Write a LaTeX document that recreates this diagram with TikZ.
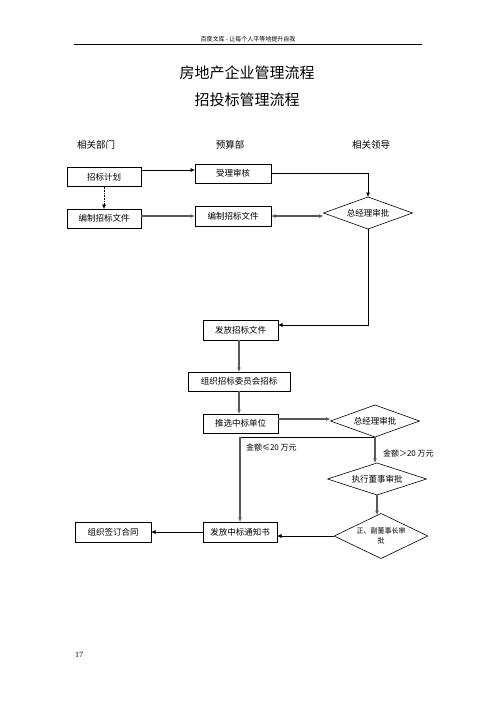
\documentclass[tikz,border=0pt]{standalone}
\usepackage{fontspec}
\setmainfont{Noto Sans CJK SC}
\newfontfamily\numfont{Liberation Serif}
\usetikzlibrary{shapes.geometric,arrows.meta,calc}
\begin{document}
\begin{tikzpicture}[x=1pt,y=-1pt,
  every node/.style={inner sep=0pt,outer sep=0pt},
  boxnode/.style={draw,line width=0.6pt,font=\fontsize{8.5}{10}\selectfont},
  dia/.style={draw,diamond,aspect=2.8,line width=0.6pt,font=\fontsize{8.5}{10}\selectfont},
  thin/.style={line width=0.6pt,-{Latex[length=4.5pt,width=4pt]}},
  thick/.style={line width=1.1pt,black!65,-{Latex[length=4.5pt,width=4pt]}},
  lab/.style={font=\fontsize{8}{9}\selectfont,anchor=west}]
\useasboundingbox (0,0) rectangle (496,702);
% header
\node (hdr) at (248,39) {\fontsize{6}{7}\selectfont 百度文库 - 让每个人平等地提升自我};
\coordinate (hl) at (74,44);
\coordinate (hr) at (422,44);
\draw[line width=0.7pt] (hl) -- (hr);
\node (t1) at (247,73) {\fontsize{15}{16}\selectfont 房地产企业管理流程};
\node (t2) at (247,99.5) {\fontsize{15}{16}\selectfont 招投标管理流程};
\node (c1) at (96,145) {\fontsize{9.5}{10}\selectfont 相关部门};
\node (c2) at (230,145) {\fontsize{9.5}{10}\selectfont 预算部};
\node (c3) at (371,145) {\fontsize{9.5}{10}\selectfont 相关领导};
% boxes
\node[boxnode,minimum width=74pt,minimum height=19pt] (jh) at (104,177) {招标计划};
\node[boxnode,minimum width=74pt,minimum height=19pt] (bz1) at (104,218.5) {编制招标文件};
\node[boxnode,minimum width=76pt,minimum height=19pt] (sl) at (233,173.5) {受理审核};
\node[boxnode,minimum width=76pt,minimum height=20pt] (bz2) at (233,216) {编制招标文件};
\node[dia,minimum width=89pt,minimum height=32pt] (d1) at (368,213) {总经理审批};
\node[boxnode,minimum width=75pt,minimum height=20pt] (ff1) at (240.5,330) {发放招标文件};
\node[boxnode,minimum width=102pt,minimum height=19pt] (zz) at (239,381.5) {组织招标委员会招标};
\node[boxnode,minimum width=75pt,minimum height=19pt] (tx) at (240.5,423.5) {推选中标单位};
\node[dia,minimum width=89pt,minimum height=32pt] (d2) at (375,421) {总经理审批};
\node[dia,minimum width=99pt,minimum height=32pt] (d3) at (377,479) {执行董事审批};
\node[dia,minimum width=91pt,minimum height=45pt,font=\fontsize{7}{9.5}\selectfont,align=center] (d4) at (381,536) {正、副董事长审\\批};
\node[boxnode,minimum width=74pt,minimum height=20pt] (ff2) at (240,532) {发放中标通知书};
\node[boxnode,minimum width=76pt,minimum height=20pt] (ht) at (113,532) {组织签订合同};
% labels
\node[lab] (l1) at (246,447) {金额≤20 万元};
\node[lab] (l2) at (383,453) {金额＞20 万元};
\node (pg) at (79,655) {\numfont\fontsize{8}{9}\selectfont 17};
% connectors
\draw[thin] ([yshift=7pt]jh.east) -- ([yshift=7pt]jh.east -| sl.west);
\draw[line width=0.6pt,densely dotted,-{Latex[length=4.5pt,width=4pt]}] (jh.south) -- (bz1.north);
\draw[thin] (sl.east) -| (d1.north);
\draw[thick] ([yshift=2.5pt]bz1.east) -- (bz2.west);
\draw[line width=1.1pt,black!65,{Latex[length=4.5pt,width=4pt]}-{Latex[length=4.5pt,width=4pt]}] (bz2.east) -- (bz2.east -| d1.west);
\draw[thin] (d1.south) |- ([yshift=5pt]ff1.east);
\draw[thick] (ff1.south -| zz.north) -- (zz.north);
\draw[thick] (zz.south) -- (zz.south |- tx.north);
\draw[thick] ([yshift=4.5pt]tx.east) -- ([yshift=4.5pt]tx.east -| d2.west);
\draw[line width=0.6pt] (d2.south) -- (d2.south -| ff2.north);
\draw[thick] (d2.south -| ff2.north) -- (ff2.north);
\draw[thick] (d2.south) -- (d2.south |- d3.north);
\draw[thick] (d3.south) -- ([yshift=-1.5pt]d3.south |- d4.north);
\draw[thin] (d4.west) -- (d4.west -| ff2.east);
\draw[thin] (ff2.west) -- (ht.east);
\end{tikzpicture}
\end{document}
